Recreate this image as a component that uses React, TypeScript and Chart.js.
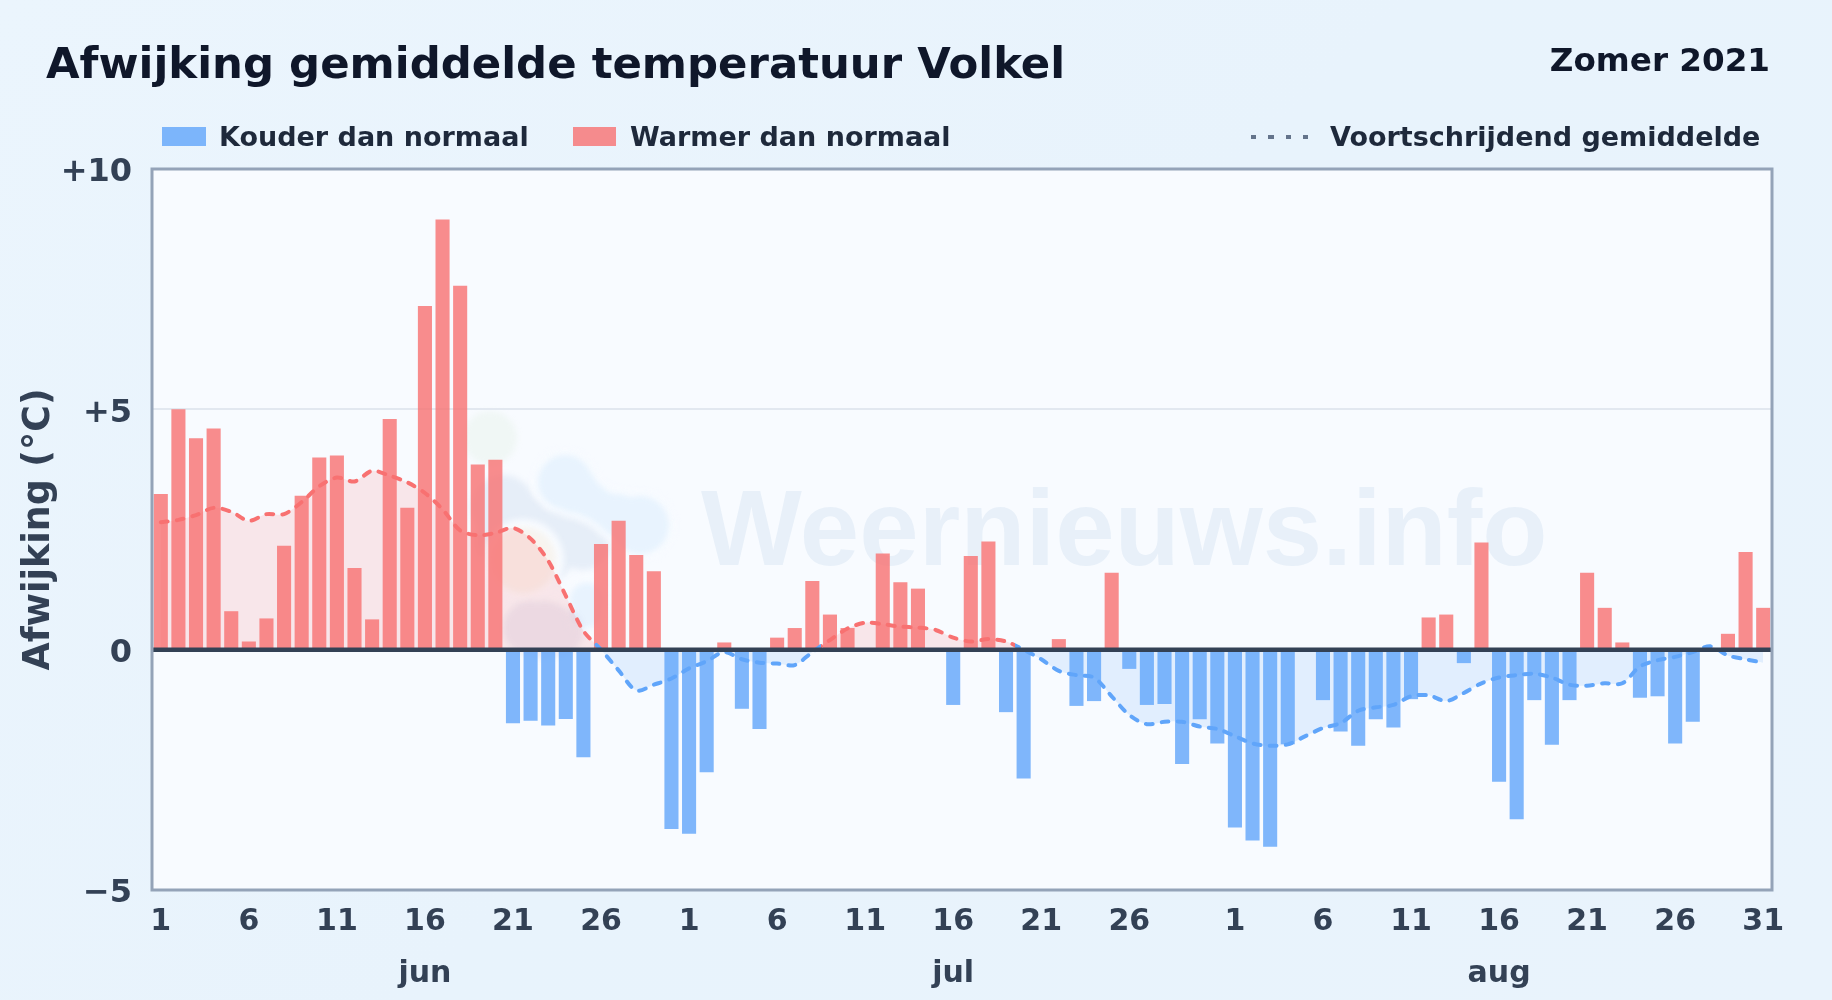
import React, { useEffect, useRef } from "react";
import { Chart, registerables } from "chart.js";

Chart.register(...registerables);

const monthNames = ["jun", "jul", "aug"];
const monthLengths = [30, 31, 31];
const yTicks = [10, 5, 0, -5];

const juneDeviation = [3.24, 5.0, 4.4, 4.6, 0.8, 0.17, 0.65, 2.16, 3.2, 4.0, 4.04, 1.7, 0.63, 4.8, 2.95, 7.15, 8.95, 7.57, 3.85, 3.95, -1.53, -1.48, -1.58, -1.44, -2.24, 2.2, 2.68, 1.97, 1.63, -3.73];
const julyDeviation = [-3.83, -2.55, 0.15, -1.23, -1.65, 0.25, 0.45, 1.43, 0.73, 0.45, 0, 2.0, 1.4, 1.27, 0, -1.15, 1.95, 2.25, -1.3, -2.68, 0, 0.22, -1.17, -1.07, 1.6, -0.4, -1.15, -1.13, -2.38, -1.45, -1.95];
const augustDeviation = [-3.7, -3.97, -4.1, -1.97, 0.03, -1.05, -1.7, -2.0, -1.45, -1.62, -1.03, 0.67, 0.73, -0.28, 2.23, -2.75, -3.53, -1.05, -1.98, -1.05, 1.6, 0.87, 0.15, -1.0, -0.97, -1.95, -1.5, 0, 0.33, 2.03, 0.87];

const juneAverage = [2.65, 2.7, 2.8, 2.95, 2.87, 2.68, 2.82, 2.82, 3.07, 3.4, 3.58, 3.5, 3.72, 3.62, 3.48, 3.26, 2.92, 2.48, 2.38, 2.43, 2.53, 2.31, 1.85, 1.12, 0.39, 0, -0.43, -0.85, -0.73, -0.6];
const julyAverage = [-0.39, -0.24, -0.05, -0.2, -0.27, -0.29, -0.32, -0.05, 0.2, 0.44, 0.56, 0.53, 0.48, 0.46, 0.41, 0.25, 0.17, 0.22, 0.17, 0, -0.2, -0.44, -0.53, -0.58, -0.97, -1.36, -1.55, -1.5, -1.5, -1.6, -1.65];
const augustAverage = [-1.8, -1.95, -2.0, -1.97, -1.8, -1.63, -1.53, -1.27, -1.2, -1.15, -0.97, -0.95, -1.07, -0.9, -0.7, -0.58, -0.53, -0.5, -0.58, -0.73, -0.75, -0.7, -0.7, -0.35, -0.22, -0.15, -0.05, 0.07, -0.12, -0.2, -0.27];

const deviation = [...juneDeviation, ...julyDeviation, ...augustDeviation];
const movingAverage = [...juneAverage, ...julyAverage, ...augustAverage];
const dayLabels = monthLengths.flatMap((n) => Array.from({ length: n }, (_, i) => String(i + 1)));

const FONT = '"DejaVu Sans", sans-serif';
const TICK_COLOR = "#334155";
const PLOT_BG = "#F8FBFF";
const RED_BAR = "rgba(248,113,113,0.8)";
const BLUE_BAR = "rgba(96,165,250,0.8)";
const RED_LINE = "#F87171";
const BLUE_LINE = "#60A5FA";

const chrome = {
  id: "chrome",
  beforeDraw(chart: any) {
    const { ctx, chartArea: a } = chart;
    ctx.save();
    ctx.fillStyle = PLOT_BG;
    ctx.fillRect(a.left, a.top, a.right - a.left, a.bottom - a.top);
    ctx.beginPath();
    ctx.rect(a.left, a.top, a.right - a.left, a.bottom - a.top);
    ctx.clip();
    // Faint site logo behind the plot: unions of circles, so overlaps keep one tone.
    ctx.filter = "blur(3px)";
    const blob = (color: string, grow: number, circles: number[][]) => {
      ctx.fillStyle = color;
      ctx.beginPath();
      circles.forEach(([x, y, r]) => {
        ctx.moveTo(x + r + grow, y);
        ctx.arc(x, y, r + grow, 0, Math.PI * 2);
      });
      ctx.fill();
    };
    const cloud = [[565, 482, 27], [575, 490, 23], [590, 500, 18], [603, 508, 17], [618, 515, 21], [640, 525, 29]];
    const body = [[503, 507, 32], [540, 550, 35], [583, 543, 27], [525, 525, 30], [560, 535, 30], [505, 540, 30]];
    const sun = [[523, 560, 33]];
    const bubble = [[587, 600, 17], [587, 613, 15]];
    const hill = [[530, 628, 27], [545, 630, 29], [558, 632, 25]];
    blob("rgba(190,225,170,0.12)", 0, [[490, 438, 27]]);
    blob("rgba(59,115,175,0.09)", 0, body);
    blob(PLOT_BG, 6, cloud);
    blob("rgba(125,195,245,0.13)", 0, cloud);
    blob(PLOT_BG, 8, sun);
    blob("rgba(248,200,130,0.13)", 0, sun);
    blob(PLOT_BG, 8, bubble);
    blob("rgba(125,195,245,0.13)", 0, bubble);
    blob("rgba(120,110,170,0.10)", 0, hill);
    ctx.filter = "none";
    ctx.font = 'bold 106.8px "Liberation Sans", sans-serif';
    ctx.fillStyle = "rgba(40,110,180,0.075)";
    ctx.textAlign = "left";
    ctx.textBaseline = "alphabetic";
    ctx.fillText("Weernieuws.info", 701, 565);
    ctx.restore();
  },
  afterDatasetsDraw(chart: any) {
    const { ctx, chartArea: a, scales } = chart;
    const zero = scales.y.getPixelForValue(0);
    ctx.save();
    ctx.strokeStyle = "#334155";
    ctx.lineWidth = 4.5;
    ctx.beginPath();
    ctx.moveTo(a.left, zero);
    ctx.lineTo(a.right, zero);
    ctx.stroke();
    ctx.strokeStyle = "#94A3B8";
    ctx.lineWidth = 3;
    ctx.strokeRect(a.left, a.top, a.right - a.left, a.bottom - a.top);
    ctx.font = `bold 30px ${FONT}`;
    ctx.fillStyle = TICK_COLOR;
    ctx.textAlign = "center";
    ctx.textBaseline = "alphabetic";
    let offset = 0;
    monthNames.forEach((name, i) => {
      ctx.fillText(name, scales.x.getPixelForValue(offset + 15), 982);
      offset += monthLengths[i];
    });
    ctx.restore();
  },
};

// The line changes colour where the average really turns warm or cold, read along the x axis.
function lineGradient(ctx: any) {
  const { chart } = ctx;
  const { chartArea: a, ctx: c, scales } = chart;
  if (!a) return RED_LINE;
  const w = a.right - a.left;
  const g = c.createLinearGradient(a.left, 0, a.right, 0);
  const warm = (v: number) => v > 0.1;
  let cur = warm(movingAverage[0]);
  g.addColorStop(0, cur ? RED_LINE : BLUE_LINE);
  for (let i = 1; i < movingAverage.length; i++) {
    const next = warm(movingAverage[i]);
    if (next !== cur) {
      const x = (scales.x.getPixelForValue(i - 0.5) - a.left) / w;
      g.addColorStop(x, cur ? RED_LINE : BLUE_LINE);
      g.addColorStop(x, next ? RED_LINE : BLUE_LINE);
      cur = next;
    }
  }
  g.addColorStop(1, cur ? RED_LINE : BLUE_LINE);
  return g;
}

function dayTick(_v: any, i: number) {
  const day = Number(dayLabels[i]);
  const next = dayLabels[i + 1];
  // The last day of a month is left out when the next month's "1" would collide with it.
  if (next === "1") return "";
  return (day - 1) % 5 === 0 ? dayLabels[i] : "";
}

const textStyle = (left: number | null, right: number | null, baseline: number, size: number, color: string): React.CSSProperties => ({
  position: "absolute",
  ...(left !== null ? { left } : {}),
  ...(right !== null ? { right } : {}),
  top: baseline - 0.846 * size,
  fontFamily: FONT,
  fontWeight: 700,
  fontSize: size,
  lineHeight: 1,
  color,
  whiteSpace: "nowrap",
});

export default function App() {
  const ref = useRef<HTMLCanvasElement | null>(null);
  useEffect(() => {
    const chart = new Chart(ref.current as HTMLCanvasElement, {
      data: {
        labels: dayLabels,
        datasets: [
          {
            type: "line",
            label: "Voortschrijdend gemiddelde",
            data: movingAverage,
            order: 0,
            borderColor: lineGradient,
            borderWidth: 4,
            borderDash: [7, 9],
            borderCapStyle: "round",
            pointRadius: 0,
            tension: 0.3,
            fill: { target: { value: 0 }, above: "rgba(248,113,113,0.15)", below: "rgba(96,165,250,0.15)" },
          },
          {
            type: "bar",
            label: "Afwijking",
            data: deviation,
            order: 1,
            categoryPercentage: 1,
            barPercentage: 0.8,
            backgroundColor: (c: any) => (c.raw >= 0 ? RED_BAR : BLUE_BAR),
          },
        ],
      } as any,
      options: {
        responsive: false,
        animation: false,
        devicePixelRatio: 1,
        layout: { padding: { left: 0, right: 60, top: 169, bottom: 0 } },
        plugins: {
          legend: { display: false },
          title: { display: false },
          tooltip: { enabled: false },
          filler: { drawTime: "beforeDatasetsDraw" },
        },
        scales: {
          x: {
            type: "category",
            offset: true,
            afterFit: (s: any) => { s.height = 110; },
            grid: { display: false, drawTicks: false },
            border: { display: false },
            ticks: {
              autoSkip: false,
              maxRotation: 0,
              minRotation: 0,
              padding: 14,
              color: TICK_COLOR,
              font: { family: FONT, size: 30, weight: "bold" },
              callback: dayTick,
            },
          },
          y: {
            min: -5,
            max: 10,
            afterFit: (s: any) => { s.width = 152; },
            afterBuildTicks: (s: any) => { s.ticks = yTicks.map((value) => ({ value })); },
            grid: {
              drawTicks: false,
              lineWidth: 2,
              color: (c: any) => (c.tick && c.tick.value === 5 ? "#E2E8F0" : "rgba(0,0,0,0)"),
            },
            border: { display: false },
            title: {
              display: true,
              text: "Afwijking (°C)",
              color: TICK_COLOR,
              font: { family: FONT, size: 36.4, weight: "bold" },
              padding: { top: 18, bottom: 0 },
            },
            ticks: {
              padding: 20,
              labelOffset: 4,
              color: TICK_COLOR,
              font: { family: FONT, size: 32, weight: "bold" },
              callback: (v: any) => (v > 0 ? `+${v}` : v < 0 ? `\u2212${Math.abs(v)}` : "0"),
            },
          },
        },
      } as any,
      plugins: [chrome],
    });
    return () => chart.destroy();
  }, []);

  return (
    <div
      style={{
        position: "absolute",
        left: 0,
        top: 0,
        width: 1832,
        height: 1000,
        overflow: "hidden",
        background: "linear-gradient(135deg, #EBF5FD 0%, #E8F3FC 50%, #E9F3FC 100%)",
      }}
    >
      <canvas ref={ref} width={1832} height={1000} style={{ position: "absolute", left: 0, top: 0, display: "block" }} />
      <div style={textStyle(46, null, 79, 43.4, "#0F172A")}>Afwijking gemiddelde temperatuur Volkel</div>
      <div style={textStyle(null, 62, 71.5, 32.6, "#0F172A")}>Zomer 2021</div>
      <div style={{ position: "absolute", left: 162, top: 127, width: 44, height: 19, background: BLUE_BAR }} />
      <div style={textStyle(219, null, 146, 27, "#1E293B")}>Kouder dan normaal</div>
      <div style={{ position: "absolute", left: 573, top: 127, width: 43, height: 19, background: RED_BAR }} />
      <div style={textStyle(630, null, 146, 27, "#1E293B")}>Warmer dan normaal</div>
      <div
        style={{
          position: "absolute",
          left: 1251,
          top: 135,
          width: 58,
          height: 4,
          background: "repeating-linear-gradient(90deg, #64748B 0 5px, transparent 5px 17.5px)",
        }}
      />
      <div style={textStyle(1330, null, 146, 27, "#1E293B")}>Voortschrijdend gemiddelde</div>
    </div>
  );
}
